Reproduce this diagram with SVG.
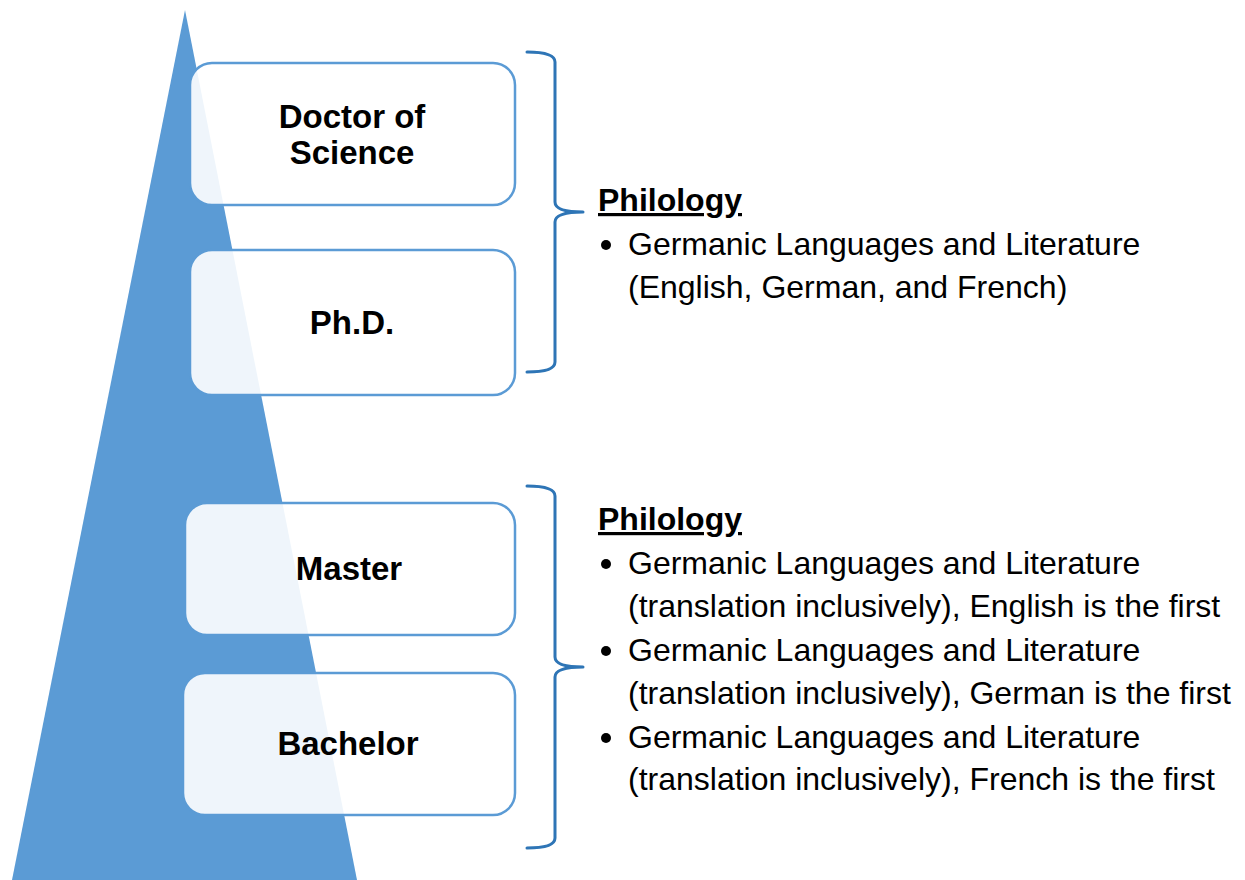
<svg xmlns="http://www.w3.org/2000/svg" width="1245" height="880" viewBox="0 0 1245 880">
  <style>
    .box { fill: #ffffff; fill-opacity: 0.9; stroke: #5B9BD5; stroke-width: 2.5; }
    .lbl { font-family: "Liberation Sans", Arial, sans-serif; font-weight: bold; font-size: 33px; fill: #000; text-anchor: middle; }
    .head { font-family: "Liberation Sans", Arial, sans-serif; font-weight: bold; font-size: 32px; fill: #000; text-decoration: underline; }
    .item { font-family: "Liberation Sans", Arial, sans-serif; font-size: 32px; fill: #000; }
    .brace { fill: none; stroke: #2E75B6; stroke-width: 3; stroke-linecap: round; stroke-linejoin: round; }
  </style>
  <rect width="1245" height="880" fill="#ffffff"/>
  <polygon id="pyramid" points="185,10 12,880 357,880" fill="#5B9BD5"/>

  <g id="node-doctor">
    <rect class="box" x="190" y="63" width="325" height="142" rx="22"/>
    <text class="lbl" x="352" y="128">Doctor of</text>
    <text class="lbl" x="352" y="164">Science</text>
  </g>
  <g id="node-phd">
    <rect class="box" x="190" y="250" width="325" height="145" rx="22"/>
    <text class="lbl" x="352" y="334">Ph.D.</text>
  </g>
  <g id="node-master">
    <rect class="box" x="185" y="503" width="330" height="132" rx="22"/>
    <text class="lbl" x="349" y="580">Master</text>
  </g>
  <g id="node-bachelor">
    <rect class="box" x="183" y="673" width="332" height="142" rx="22"/>
    <text class="lbl" x="348" y="755">Bachelor</text>
  </g>

  <g id="connectors">
    <path class="brace" d="M527,52 Q555,52 555,62 L555,202 Q555,212 583,212 Q555,212 555,222 L555,362 Q555,372 527,372"/>
    <path class="brace" d="M527,486 Q555,486 555,496 L555,657 Q555,667 583,667 Q555,667 555,677 L555,838 Q555,848 527,848"/>
  </g>

  <g id="text-upper">
    <text class="head" x="598" y="211">Philology</text>
    <circle cx="606" cy="245" r="5" fill="#000"/>
    <text class="item" x="628" y="255">Germanic Languages and Literature</text>
    <text class="item" x="628" y="298">(English, German, and French)</text>
  </g>
  <g id="text-lower">
    <text class="head" x="598" y="530">Philology</text>
    <circle cx="606" cy="564" r="5" fill="#000"/>
    <text class="item" x="628" y="574">Germanic Languages and Literature</text>
    <text class="item" x="628" y="617">(translation inclusively), English is the first</text>
    <circle cx="606" cy="651" r="5" fill="#000"/>
    <text class="item" x="628" y="661">Germanic Languages and Literature</text>
    <text class="item" x="628" y="704">(translation inclusively), German is the first</text>
    <circle cx="606" cy="738" r="5" fill="#000"/>
    <text class="item" x="628" y="748">Germanic Languages and Literature</text>
    <text class="item" x="628" y="790">(translation inclusively), French is the first</text>
  </g>
</svg>
